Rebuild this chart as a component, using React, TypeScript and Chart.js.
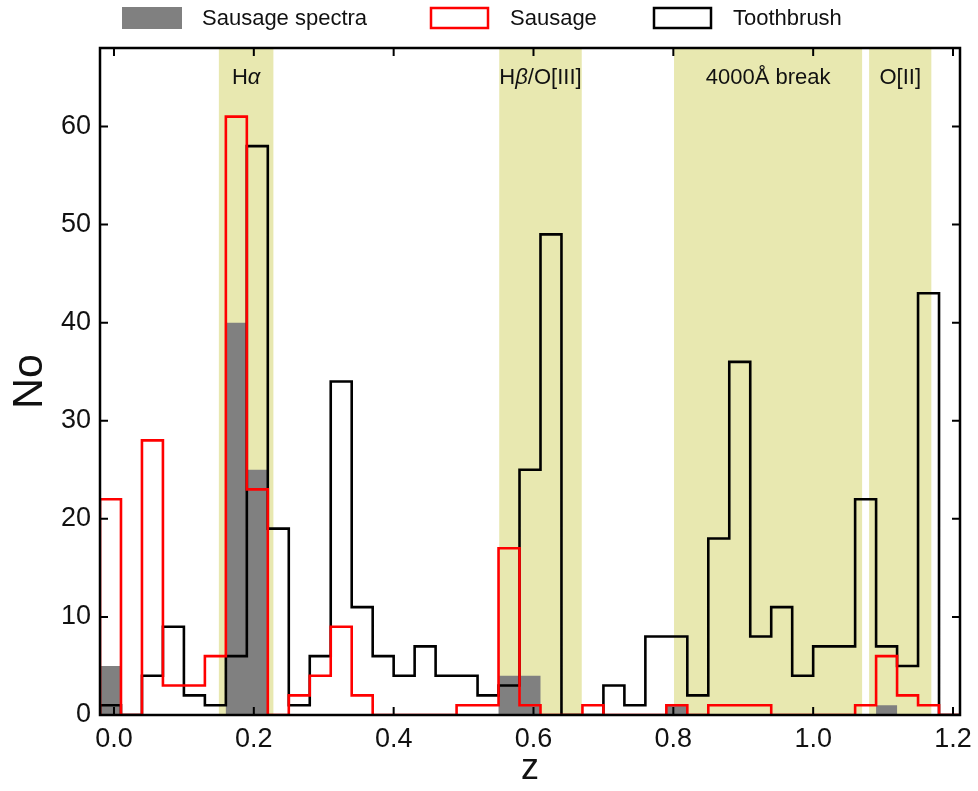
import React, { useEffect, useRef } from "react";
import { Chart, registerables } from "chart.js";

Chart.register(...registerables);

// ---- data ----
const binStart = -0.02;
const binWidth = 0.03;
const toothbrush = [1, 0, 4, 9, 2, 1, 6, 58, 19, 1, 6, 34, 11, 6, 4, 7, 4, 4, 2, 3, 25, 49, 0, 0, 3, 1, 8, 8, 2, 18, 36, 8, 11, 4, 7, 7, 22, 7, 5, 43, 0];
const sausage = [22, 0, 28, 3, 3, 6, 61, 23, 0, 2, 4, 9, 2, 0, 0, 0, 0, 1, 1, 17, 1, 0, 0, 1, 0, 0, 0, 1, 0, 1, 1, 1, 0, 0, 0, 0, 1, 6, 2, 1, 0];
const spectra = [5, 0, 0, 0, 0, 0, 40, 25, 0, 0, 0, 0, 0, 0, 0, 0, 0, 0, 0, 4, 4, 0, 0, 0, 0, 0, 0, 1, 0, 0, 0, 0, 0, 0, 0, 0, 0, 1, 0, 0, 0];
const seriesNames = ["Sausage spectra", "Sausage", "Toothbrush"];
const bandNames = ["Hα", "Hβ/O[III]", "4000Å break", "O[II]"];
const bandStart = [0.15, 0.551, 0.801, 1.08];
const bandEnd = [0.228, 0.669, 1.07, 1.169];
const xTicks = [0, 0.2, 0.4, 0.6, 0.8, 1.0, 1.2];
const yTicks = [0, 10, 20, 30, 40, 50, 60];

const FONT = "'Liberation Sans', Arial, Helvetica, sans-serif";
const BAND_COLOR = "#e8e8b0";
const GREY = "#808080";

// step outline: left edge of each bin, then a closing point at the last right edge
function stepPoints(values: number[]) {
  const pts: { x: number; y: number }[] = [{ x: binStart, y: 0 }];
  values.forEach((v, i) => pts.push({ x: binStart + i * binWidth, y: v }));
  pts.push({ x: binStart + values.length * binWidth, y: 0 });
  return pts;
}

function drawMixed(ctx: CanvasRenderingContext2D, text: string, cx: number, cy: number, size: number) {
  const parts = Array.from(text).map((ch) => ({ ch, it: /[α-ω]/.test(ch) }));
  const fontFor = (it: boolean) => `${it ? "italic " : ""}${size}px ${FONT}`;
  let total = 0;
  parts.forEach((p) => {
    ctx.font = fontFor(p.it);
    total += ctx.measureText(p.ch).width;
  });
  let x = cx - total / 2;
  ctx.textAlign = "left";
  ctx.textBaseline = "middle";
  parts.forEach((p) => {
    ctx.font = fontFor(p.it);
    ctx.fillText(p.ch, x, cy);
    x += ctx.measureText(p.ch).width;
  });
}

const decorPlugin = {
  id: "decor",
  beforeDatasetsDraw(chart: any) {
    const { ctx, chartArea } = chart;
    const xs = chart.scales.x;
    ctx.save();
    ctx.fillStyle = BAND_COLOR;
    bandStart.forEach((s, i) => {
      const x0 = xs.getPixelForValue(s);
      const x1 = xs.getPixelForValue(bandEnd[i]);
      ctx.fillRect(x0, chartArea.top, x1 - x0, chartArea.bottom - chartArea.top);
    });
    ctx.fillStyle = "#111";
    bandStart.forEach((s, i) => {
      const cx = (xs.getPixelForValue(s) + xs.getPixelForValue(bandEnd[i])) / 2;
      drawMixed(ctx, bandNames[i], cx, chartArea.top + 30, 22);
    });
    ctx.restore();
  },
  afterDatasetsDraw(chart: any) {
    const { ctx, chartArea } = chart;
    const xs = chart.scales.x;
    const ys = chart.scales.y;
    ctx.save();
    ctx.strokeStyle = "#000";
    ctx.lineWidth = 2;
    const tl = 8;
    ctx.beginPath();
    xTicks.forEach((t) => {
      const x = xs.getPixelForValue(t);
      ctx.moveTo(x, chartArea.bottom);
      ctx.lineTo(x, chartArea.bottom - tl);
      ctx.moveTo(x, chartArea.top);
      ctx.lineTo(x, chartArea.top + tl);
    });
    yTicks.forEach((t) => {
      const y = ys.getPixelForValue(t);
      ctx.moveTo(chartArea.left, y);
      ctx.lineTo(chartArea.left + tl, y);
      ctx.moveTo(chartArea.right, y);
      ctx.lineTo(chartArea.right - tl, y);
    });
    ctx.stroke();
    ctx.lineWidth = 2.5;
    ctx.strokeRect(chartArea.left, chartArea.top, chartArea.right - chartArea.left, chartArea.bottom - chartArea.top);

    // legend
    const items = [
      { name: seriesNames[0], fill: GREY, stroke: null, bx: 122 },
      { name: seriesNames[1], fill: null, stroke: "#ff0000", bx: 430 },
      { name: seriesNames[2], fill: null, stroke: "#000", bx: 653 },
    ];
    ctx.font = `22px ${FONT}`;
    ctx.textBaseline = "middle";
    ctx.textAlign = "left";
    items.forEach((it) => {
      if (it.fill) {
        ctx.fillStyle = it.fill;
        ctx.fillRect(it.bx, 7, 60, 22);
      } else {
        ctx.strokeStyle = it.stroke as string;
        ctx.lineWidth = 2.5;
        ctx.strokeRect(it.bx + 1, 8, 57, 20);
      }
      ctx.fillStyle = "#111";
      ctx.fillText(it.name, it.bx + 80, 19);
    });
    ctx.restore();
  },
};

export default function App() {
  const ref = useRef<HTMLCanvasElement | null>(null);
  useEffect(() => {
    if (!ref.current) return;
    const chart = new Chart(ref.current, {
      type: "line",
      data: {
        datasets: [
          {
            label: seriesNames[1],
            data: stepPoints(sausage),
            stepped: "before",
            borderColor: "#ff0000",
            borderWidth: 2.6,
            pointRadius: 0,
            fill: false,
            borderJoinStyle: "miter",
          },
          {
            label: seriesNames[2],
            data: stepPoints(toothbrush),
            stepped: "before",
            borderColor: "#000",
            borderWidth: 2.6,
            pointRadius: 0,
            fill: false,
            borderJoinStyle: "miter",
          },
          {
            label: seriesNames[0],
            data: stepPoints(spectra),
            stepped: "before",
            borderColor: "rgba(0,0,0,0)",
            borderWidth: 0,
            backgroundColor: GREY,
            pointRadius: 0,
            fill: "origin",
          },
        ],
      },
      options: {
        animation: false,
        responsive: false,
        maintainAspectRatio: false,
        layout: { padding: { top: 48, right: 18, left: 0, bottom: 0 } },
        plugins: { legend: { display: false }, tooltip: { enabled: false } },
        scales: {
          x: {
            type: "linear",
            min: binStart,
            max: 1.21,
            grid: { display: false },
            border: { display: false },
            ticks: {
              stepSize: 0.2,
              includeBounds: false,
              padding: 0,
              maxRotation: 0,
              color: "#111",
              font: { family: FONT, size: 27 },
              callback: (v: any) => Number(v).toFixed(1),
            },
            title: { display: true, text: "z", color: "#111", font: { family: FONT, size: 36 }, padding: { top: 0, bottom: 0 } },
            afterFit: (s: any) => {
              s.height = 76;
            },
          },
          y: {
            min: 0,
            max: 68,
            grid: { display: false },
            border: { display: false },
            ticks: {
              stepSize: 10,
              includeBounds: false,
              padding: 1,
              color: "#111",
              font: { family: FONT, size: 27 },
            },
            title: { display: true, text: "No", color: "#111", font: { family: FONT, size: 43 }, padding: { top: 4, bottom: 0 } },
            afterFit: (s: any) => {
              s.width = 100;
            },
          },
        },
      },
      plugins: [decorPlugin],
    } as any);
    return () => chart.destroy();
  }, []);
  return (
    <div style={{ position: "fixed", left: 0, top: 0, width: 978, height: 791, background: "#fff" }}>
      <canvas ref={ref} width={978} height={791} style={{ width: 978, height: 791, display: "block" }} />
    </div>
  );
}
